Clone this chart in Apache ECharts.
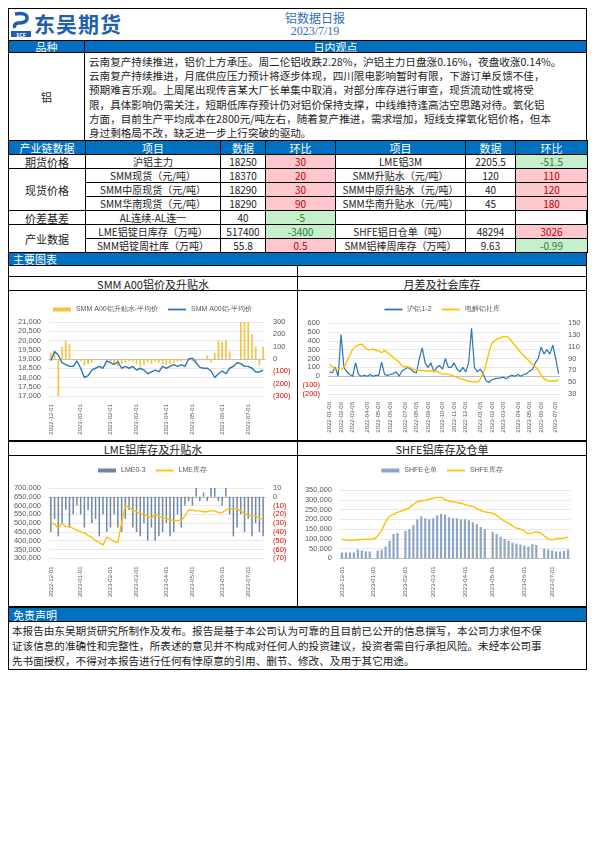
<!DOCTYPE html>
<html><head><meta charset="utf-8">
<script src="https://cdn.jsdelivr.net/npm/echarts@6/dist/echarts.min.js"></script>
<style>
body{margin:0;width:595px;height:842px;background:#fff;font-family:"Noto Sans CJK SC","Noto Sans",sans-serif;position:relative;overflow:hidden}
.c{position:absolute;box-sizing:border-box;display:flex;align-items:center;justify-content:center;font-size:10px;color:#222;white-space:nowrap;overflow:hidden}
.ch{position:absolute}
</style></head><body>
<div id="page"></div>
<div class="ch" id="c1" style="left:9px;top:291px;width:287px;height:149px"></div>
<div class="ch" id="c2" style="left:298px;top:291px;width:288px;height:149px"></div>
<div class="ch" id="c3" style="left:9px;top:456px;width:287px;height:144px"></div>
<div class="ch" id="c4" style="left:298px;top:456px;width:288px;height:144px"></div>
<script>
// ---- text / table data ----
const reportTitle = "铝数据日报";
const reportDate = "2023/7/19";
const viewLines = ["云南复产持续推进，铝价上方承压。周二伦铝收跌2.28%，沪铝主力日盘涨0.16%，夜盘收涨0.14%。",
"云南复产持续推进，月底供应压力预计将逐步体现，四川限电影响暂时有限，下游订单反馈不佳，",
"预期难言乐观。上周尾出现传言某大厂长单集中取消，对部分库存进行审查，现货流动性或将受",
"限，具体影响仍需关注，短期低库存预计仍对铝价保持支撑，中线维持逢高沽空思路对待。氧化铝",
"方面，目前生产平均成本在2800元/吨左右，随着复产推进，需求增加，短线支撑氧化铝价格，但本",
"身过剩格局不改，缺乏进一步上行突破的驱动。"];
const tableHeader = ["产业链数据","项目","数据","环比","项目","数据","环比"];
const tableGroups = ["期货价格","现货价格","价差基差","产业数据"];
const groupRows = [1,3,1,2];
const leftItems = ["沪铝主力","SMM现货（元/吨）","SMM中原现货（元/吨）","SMM华南现货（元/吨）","AL连续-AL连一","LME铝锭日库存（万吨）","SMM铝锭周社库（万吨）"];
const leftValues = ["18250","18370","18290","18290","40","517400","55.8"];
const leftChanges = ["30","20","30","90","-5","-3400","0.5"];
const rightItems = ["LME铝3M","SMM升贴水（元/吨）","SMM中原升贴水（元/吨）","SMM华南升贴水（元/吨）","","SHFE铝日仓单（吨）","SMM铝棒周库存（万吨）"];
const rightValues = ["2205.5","120","40","45","","48294","9.63"];
const rightChanges = ["-51.5","110","120","180","","3026","-0.99"];
const disclaimerLines = ["本报告由东吴期货研究所制作及发布。报告是基于本公司认为可靠的且目前已公开的信息撰写，本公司力求但不保",
"证该信息的准确性和完整性，所表述的意见并不构成对任何人的投资建议，投资者需自行承担风险。未经本公司事",
"先书面授权，不得对本报告进行任何有悖原意的引用、删节、修改、及用于其它用途。"];

// ---- chart data (every 4 days from 2022-12-01 for charts 1,3,4; weekly from 2022-01-06 for chart 2) ----
const smmPrice = [18900,19400,19200,18800,18700,18600,18600,18900, 18500,18000,18100,18400,18500,18600,18500,18900, 18800,18700,18850,18500,18600,18500,18600, 18400,18500,18400,18200,18300,18400,18300,18600, 18500,18600,18700,18600,18700,18600,19000, 19050,18800,18550,18500,18500,18350,18000,18200, 18350,18200,18500,18600,18800,18750,18600, 18600,18500,18300,18300,18400];
const smmPremium = [50,60,-300,100,150,120,-10,0, -20,-50,-40,-30,-10,0,0,0, -20,-50,-60,-40,-30,-20,-20, -40,-60,-50,-30,-40,-20,-30,-40, -50,-40,-30,-20,-20,-10,-10, -20,-20,-10,-10,30,-30,50,150, 140,150,60,-10,-10,300,300, 300,200,100,-50,100];
const spread = [50,40,100,0, 470,100,50,20, 0,150,20,0,10, 0,20,0,10, 10,160,20,10, 20,30,50,0, 60,80,100,80,50, 40,200,320,150, 100,150,50,100, 120,80,200,100, 100,150,80,50,100, 50,150,540,100, 50,80,30,-50, -70,-40,-30,-20, -20,-10,-30,0,10, 0,20,0,20, 30,60,80,150, 200,330,250,300, 250,350,200,30];
const socialStock = [80,76,72,72, 72,75,85,95, 105,110,113,114,110, 106,105,106,104, 103,100,103,100, 96,92,88,84, 78,76,76,74,72, 70,70,70,69, 69,69,68,68, 66,64,64,63, 62,60,58,56,55, 53,52,51,50, 50,55,65,80, 100,115,120,123, 125,127,127,124,118, 112,106,100,95, 90,85,80,76, 70,62,56,53, 52,52,52,55];
const lme03 = [-40,-25,-45,-30,-15,-35,-20,-10, -20,-35,-15,-30,-25,-45,-20,-40, -35,-20,-35,-40,-25,-15,-35, -40,-45,-30,-50,-35,-50,-45,-40, -30,-45,-40,-20,-35,-10,-5, -10,10,-5,5,-5,10,10,-5, -10,10,-20,-45,-35,-20,-40, -25,-45,-30,-40,-45];
const lmeStock = [500000,495000,470000,500000,480000,480000,470000,460000, 450000,445000,430000,420000,400000,390000,375000,420000, 410000,395000,390000,500000,600000,590000,575000, 565000,555000,550000,540000,530000,550000,540000,530000, 525000,520000,515000,515000,515000,540000,575000, 575000,570000,570000,565000,565000,570000,570000,560000, 560000,575000,585000,580000,580000,570000,555000, 545000,540000,540000,530000,520000];
const shfeWarrant = [30000,30000,30000,30000,45000,40000,35000,35000, 0,40000,45000,60000,90000,125000,130000,0, 140000,150000,170000,200000,215000,205000,200000, 205000,220000,228000,225000,210000,205000,205000,200000, 200000,195000,185000,175000,160000,150000,0, 135000,125000,110000,100000,90000,80000,75000,70000, 65000,60000,72000,68000,0,50000,45000, 40000,35000,35000,38000,45000];
const shfeStock = [98000,93000,92000,93000,95000,96000,97000,98000, 100000,115000,145000,185000,215000,225000,235000,243000, 250000,260000,275000,290000,295000,298000,302000, 308000,312000,312000,300000,293000,290000,285000,282000, 275000,270000,265000,255000,245000,238000,235000, 230000,220000,205000,190000,180000,165000,155000,150000, 140000,125000,130000,135000,130000,115000,100000, 95000,100000,102000,105000,108000];

function dates(start, step, n){const r=[];const d=new Date(start+"T00:00:00Z");for(let i=0;i<n;i++){r.push(d.toISOString().slice(0,10));d.setUTCDate(d.getUTCDate()+step);}return r;}
const cats4 = dates("2022-12-01",4,smmPrice.length);
const catsW = dates("2022-01-06",7,spread.length);

// ---- page layout ----
const page=document.getElementById('page');
function box(x,y,w,h,html,st){const d=document.createElement('div');d.className='c';d.style.cssText+=`left:${x}px;top:${y}px;width:${w}px;height:${h}px;`+(st||'');d.innerHTML=html;page.appendChild(d);return d;}
const B='border:1px solid #000;';
const BLUE='#0070C0';
box(8,8,579,662,'',B);
box(8,8,579,33,'',B);
box(11,11,20,20,'<svg width="20" height="20"><path d="M4 3 Q17 1 16 8 Q15 12 7 12 Q2 13 4 17" stroke="#1F5FB0" stroke-width="3.5" fill="none"/></svg>','');
box(11,31,20,6,'SCF','font-size:5px;color:#fff;background:#1F5FB0;font-weight:bold;');
box(34,9,110,28,'东吴期货','font-size:21px;font-weight:bold;color:#1F5FB0;justify-content:flex-start;letter-spacing:1px;');
box(240,9,150,16,reportTitle,'font-size:12px;color:#2F6EBA;');
box(240,24,150,15,reportDate,'font-size:12px;color:#2F6EBA;font-family:"Liberation Serif",serif;');
box(8,40,77,13,'品种',B+'background:'+BLUE+';color:#fff;font-size:11px;');
box(84,40,503,13,'日内观点',B+'background:'+BLUE+';color:#fff;font-size:11px;');
box(8,52,77,89,'铝',B+'font-size:11px;');
box(84,52,503,89,viewLines.map(l=>'<div>'+l+'</div>').join(''),B+'display:block;font-size:10.6px;line-height:14.2px;padding:2px 3px 0 4px;');
// table
const cx=[8,85,220,265,335,465,515,587];
const ty0=140, rh=14;
tableHeader.forEach((t,i)=>box(cx[i],ty0,cx[i+1]-cx[i]+1,rh+1,t,B+'background:'+BLUE+';color:#fff;font-size:11px;'));
let r=0;
const RED='background:#FFC7CE;color:#C00000;', GRN='background:#C6EFCE;color:#2E7D32;';
function chgStyle(v){if(v==='')return'';return v.startsWith('-')?GRN:RED;}
tableGroups.forEach((g,gi)=>{
  const y=ty0+rh*(1+r);
  box(cx[0],y,cx[1]-cx[0]+1,rh*groupRows[gi]+1,g,B+'font-size:11px;');
  for(let k=0;k<groupRows[gi];k++){
    const i=r+k, yy=ty0+rh*(1+i);
    const row=[leftItems[i],leftValues[i],leftChanges[i],rightItems[i],rightValues[i],rightChanges[i]];
    row.forEach((t,j)=>{
      let st=B+'font-size:10px;';
      if(j===2||j===5) st+=chgStyle(t);
      box(cx[j+1],yy,cx[j+2]-cx[j+1]+1,rh+1,t,st);
    });
  }
  r+=groupRows[gi];
});
box(8,252,579,14,'主要图表',B+'background:'+BLUE+';color:#fff;font-size:11px;justify-content:flex-start;padding-left:4px;');
box(8,265,290,176,'',B);box(297,265,290,176,'',B);
box(8,440,290,167,'',B);box(297,440,290,167,'',B);
box(8,276,290,15,'SMM A00铝价及升贴水',B+'font-size:11px;');
box(297,276,290,15,'月差及社会库存',B+'font-size:11px;');
box(8,441,290,15,'LME铝库存及升贴水',B+'font-size:11px;');
box(297,441,290,15,'SHFE铝库存及仓单',B+'font-size:11px;');
box(8,607,579,15,'免责声明',B+'background:'+BLUE+';color:#fff;font-size:11px;justify-content:flex-start;padding-left:4px;');
box(8,621,579,49,disclaimerLines.map(l=>'<div>'+l+'</div>').join(''),B+'display:block;font-size:10.6px;line-height:15px;padding:1px 3px;');

// ---- charts ----
const AX='#595959';
const small={fontSize:7,color:AX,fontFamily:'Liberation Sans, sans-serif'};
function numFmt(v){return v.toLocaleString('en-US');}
function paren(v){return v<0?'{n|('+numFmt(-v)+')}':numFmt(v);}
function xAxis(cats,suffix){return {type:'category',data:cats,boundaryGap:true,
  axisLine:{lineStyle:{color:'#bfbfbf'}},axisTick:{show:false},
  axisLabel:Object.assign({},small,{fontSize:6,rotate:90,interval:(i)=>i===0||cats[i].slice(0,7)!==cats[i-1].slice(0,7),
    formatter:(v)=>v.slice(0,8)+suffix})};}
function yAxis(min,max,iv,pos,showSplit,rich){return {type:'value',min,max,interval:iv,position:pos,
  axisLine:{show:false},axisTick:{show:false},splitLine:{show:showSplit,lineStyle:{color:'#d9d9d9',width:0.6}},
  axisLabel:Object.assign({},small,{fontSize:7.5,formatter:rich?paren:numFmt,rich:{n:{color:'#E00000',fontSize:7.5,fontFamily:'Liberation Sans, sans-serif'}}})};}
const LINEICON='path://M0,0 L20,0 L20,2 L0,2 Z';
function legend(names,top){return {top:top,itemWidth:18,itemHeight:4,itemGap:10,textStyle:{fontSize:7,color:AX},
  data:names.map(n=>({name:n[0],icon:n[1]?LINEICON:'rect'}))};}
function line(name,data,color,axis,smooth,w){return {name,type:'line',yAxisIndex:axis,data,symbol:'none',smooth:smooth,
  itemStyle:{color},lineStyle:{color,width:w}};}

const ch1=echarts.init(document.getElementById('c1'));
ch1.setOption({animation:false,grid:{left:40,right:31,top:31,bottom:44},legend:legend([['SMM A00铝升贴水-平均价',0],['SMM A00铝-平均价',1]],10),
  xAxis:xAxis(cats4,'01'),
  yAxis:[yAxis(17000,21000,500,'left',true,false),yAxis(-300,300,100,'right',false,true)],
  series:[{name:'SMM A00铝升贴水-平均价',type:'bar',yAxisIndex:1,data:smmPremium,barWidth:'45%',itemStyle:{color:'#F5C242'}},
          line('SMM A00铝-平均价',smmPrice,'#2E75B6',0,false,1.4)]});

const ch2=echarts.init(document.getElementById('c2'));
ch2.setOption({animation:false,grid:{left:30,right:26,top:32,bottom:46},legend:legend([['沪铝1-2',1],['电解铝社库',1]],10),
  xAxis:xAxis(catsW,'06'),
  yAxis:[yAxis(-200,600,100,'left',true,true),yAxis(30,150,20,'right',false,false)],
  series:[line('沪铝1-2',spread,'#2E75B6',0,false,1.2),
          line('电解铝社库',socialStock,'#FFC000',1,true,1.4)]});

const ch3=echarts.init(document.getElementById('c3'));
ch3.setOption({animation:false,grid:{left:40,right:31,top:32,bottom:38},legend:legend([['LME0-3',0],['LME库存',1]],6),
  xAxis:xAxis(cats4,'01'),
  yAxis:[yAxis(300000,700000,50000,'left',true,false),yAxis(-70,10,10,'right',false,true)],
  series:[{name:'LME0-3',type:'bar',yAxisIndex:1,data:lme03,barWidth:'40%',itemStyle:{color:'#6F87A8'}},
          line('LME库存',lmeStock,'#FFC000',0,false,1.4)]});

const ch4=echarts.init(document.getElementById('c4'));
ch4.setOption({animation:false,grid:{left:42,right:16,top:34,bottom:39},legend:legend([['SHFE仓单',0],['SHFE库存',1]],6),
  xAxis:xAxis(cats4,'01'),
  yAxis:[yAxis(0,350000,50000,'left',true,false)],
  series:[{name:'SHFE仓单',type:'bar',data:shfeWarrant,barWidth:'55%',itemStyle:{color:'#8EA6C6'}},
          line('SHFE库存',shfeStock,'#FFC000',0,true,1.4)]});
</script></body></html>
